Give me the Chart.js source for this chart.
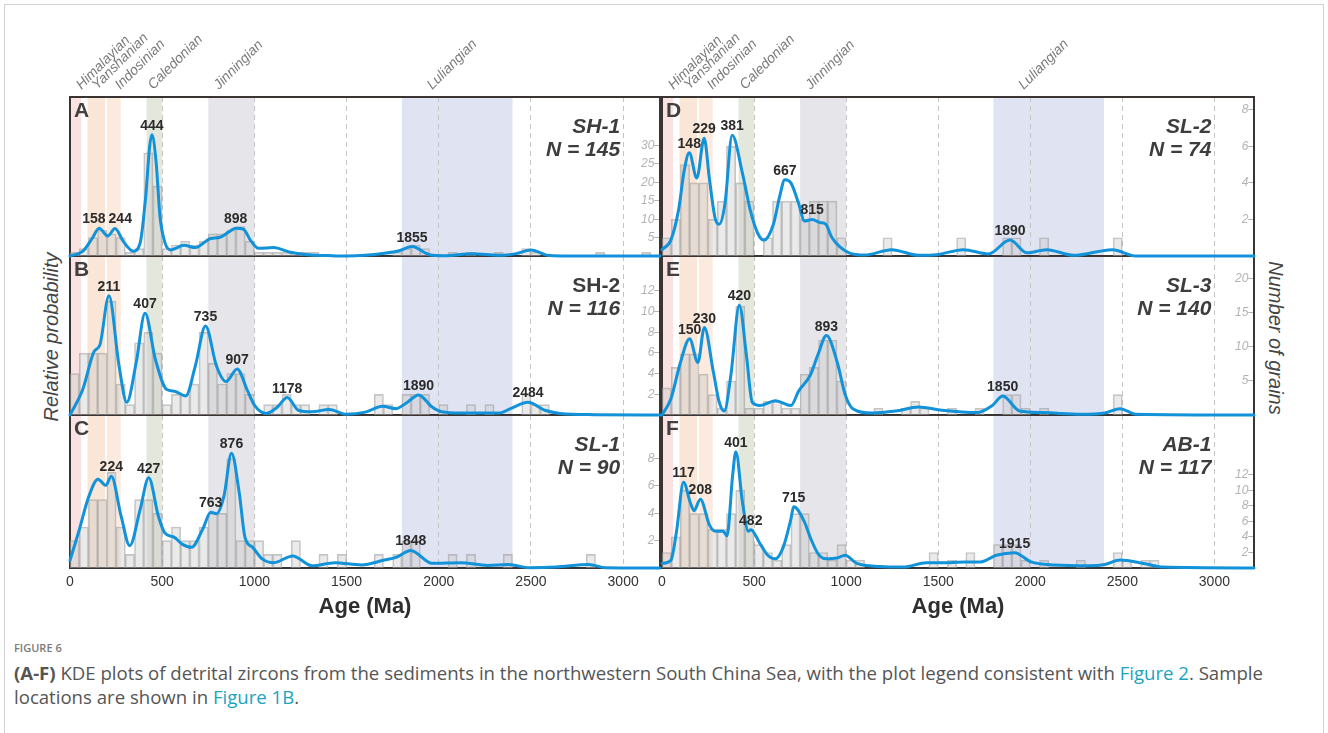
<!DOCTYPE html>
<html lang="en">
<head>
<meta charset="utf-8">
<title>KDE plots of detrital zircons</title>
<script src="https://cdn.jsdelivr.net/npm/chart.js@4.4.1/dist/chart.umd.min.js"></script>
<style>
  html, body { margin: 0; padding: 0; background: #fff; }
  body { position: relative; width: 1328px; height: 733px; overflow: hidden; }
  #sheet { position: absolute; left: 4px; top: 4px; width: 1320px; height: 800px; border: 1px solid #d2d2d2; box-sizing: border-box; }
  canvas { position: absolute; }
  .axis-title { position: absolute; font: italic 20px 'Liberation Sans', Arial, sans-serif; color: #454545; white-space: nowrap; }
  #ytl { left: 51px; top: 337px; transform: translate(-50%, -50%) rotate(-90deg); }
  #ytr { left: 1275px; top: 338px; transform: translate(-50%, -50%) rotate(90deg); }
  #caption { position: absolute; left: 14px; top: 640px; font-family: 'Open Sans', 'Noto Sans', sans-serif; color: #555; }
  #caption .fig { font-size: 11px; font-weight: 600; color: #7a7a7a; line-height: 16px; }
  #caption .text { margin-top: 5px; font-size: 18.6px; line-height: 24px; white-space: nowrap; }
  #caption b { font-weight: 700; }
  #caption .ref { color: #1ba3c1; }
</style>
</head>
<body>
<div id="sheet"></div>
<div class="axis-title" id="ytl">Relative probability</div>
<div class="axis-title" id="ytr">Number of grains</div>
<div id="caption">
  <div class="fig">FIGURE 6</div>
  <div class="text"><b>(A-F)</b> KDE plots of detrital zircons from the sediments in the northwestern South China Sea, with the plot legend consistent with <span class="ref">Figure 2</span>. Sample<br>locations are shown in <span class="ref">Figure 1B</span>.</div>
</div>
<script>
// ---------- tectonic periods (Ma) ----------
const periodNames    = ['Himalayian', 'Yanshanian', 'Indosinian', 'Caledonian', 'Jinningian', 'Luliangian'];
const periodStart    = [0, 95, 200, 415, 750, 1800];
const periodEnd      = [60, 190, 275, 500, 1000, 2400];
const periodLabelAge = [62, 148, 273, 451, 808, 1965];

// ---------- samples ----------
const panelLetters = ['A', 'B', 'C', 'D', 'E', 'F'];
const sampleNames  = ['SH-1', 'SH-2', 'SL-1', 'SL-2', 'SL-3', 'AB-1'];
const sampleN      = [145, 116, 90, 74, 140, 117];

// ---------- KDE curves: age (Ma) and relative probability ----------
const kdeAgeA  = [0, 70, 120, 158, 205, 244, 290, 343, 380, 411, 432, 444, 467, 488, 515, 546, 618, 680, 763, 810, 860, 898, 939, 981, 1022, 1105, 1188, 1290, 1400, 1500, 1600, 1705, 1790, 1855, 1950, 2030, 2180, 2330, 2420, 2500, 2600, 2700, 3200];
const kdeProbA = [0, 0.03, 0.11, 0.175, 0.126, 0.173, 0.09, 0.03, 0.08, 0.38, 0.69, 0.762, 0.59, 0.25, 0.084, 0.038, 0.067, 0.053, 0.11, 0.116, 0.15, 0.175, 0.17, 0.095, 0.048, 0.053, 0.025, 0.008, 0.003, 0, 0.004, 0.017, 0.035, 0.059, 0.008, 0.002, 0.014, 0.004, 0.015, 0.038, 0.003, 0, 0];

const kdeAgeB  = [0, 69, 131, 162, 211, 266, 308, 359, 407, 463, 525, 566, 628, 680, 735, 794, 846, 907, 960, 1001, 1063, 1125, 1178, 1239, 1312, 1405, 1499, 1602, 1695, 1768, 1830, 1890, 1964, 2016, 2120, 2250, 2327, 2389, 2484, 2575, 2658, 2844, 3200];
const kdeProbB = [0, 0.16, 0.40, 0.44, 0.75, 0.31, 0.08, 0.33, 0.64, 0.35, 0.16, 0.15, 0.12, 0.31, 0.56, 0.31, 0.21, 0.29, 0.16, 0.06, 0.01, 0.05, 0.11, 0.03, 0.02, 0.035, 0.005, 0.018, 0.055, 0.04, 0.08, 0.126, 0.05, 0.02, 0.012, 0.012, 0.012, 0.04, 0.08, 0.03, 0.01, 0.002, 0];

const kdeAgeC  = [0, 48, 100, 152, 194, 224, 277, 324, 380, 427, 479, 514, 566, 608, 659, 722, 763, 794, 835, 876, 918, 949, 991, 1042, 1105, 1208, 1312, 1436, 1581, 1705, 1768, 1848, 1964, 2120, 2265, 2379, 2492, 2637, 2813, 2906, 3200];
const kdeProbC = [0.05, 0.24, 0.46, 0.58, 0.54, 0.60, 0.34, 0.146, 0.38, 0.59, 0.34, 0.23, 0.20, 0.156, 0.135, 0.26, 0.365, 0.355, 0.47, 0.75, 0.49, 0.20, 0.135, 0.06, 0.035, 0.079, 0.015, 0.035, 0.02, 0.052, 0.069, 0.115, 0.031, 0.035, 0.017, 0.023, 0.002, 0.006, 0.023, 0.002, 0];

const kdeAgeD  = [0, 48, 90, 121, 148, 189, 229, 258, 290, 311, 342, 381, 437, 479, 521, 553, 605, 640, 667, 700, 742, 774, 815, 858, 889, 921, 963, 1016, 1100, 1247, 1394, 1500, 1636, 1773, 1890, 1982, 2089, 2236, 2446, 2573, 3215];
const kdeProbD = [0.04, 0.1, 0.29, 0.54, 0.65, 0.49, 0.74, 0.48, 0.23, 0.2, 0.33, 0.76, 0.52, 0.29, 0.14, 0.1, 0.2, 0.38, 0.48, 0.46, 0.33, 0.22, 0.23, 0.21, 0.2, 0.12, 0.06, 0.02, 0.006, 0.04, 0.004, 0.01, 0.04, 0.013, 0.1, 0.02, 0.04, 0.004, 0.04, 0, 0];

const kdeAgeE  = [0, 48, 100, 150, 195, 230, 279, 311, 338, 374, 420, 458, 490, 532, 616, 700, 742, 805, 847, 893, 952, 994, 1036, 1142, 1268, 1394, 1520, 1710, 1794, 1850, 1942, 2068, 2278, 2405, 2488, 2573, 3215];
const kdeProbE = [0, 0.1, 0.33, 0.48, 0.33, 0.55, 0.27, 0.08, 0.025, 0.25, 0.69, 0.38, 0.08, 0.06, 0.09, 0.06, 0.15, 0.25, 0.38, 0.50, 0.33, 0.13, 0.04, 0.013, 0.025, 0.05, 0.03, 0.015, 0.06, 0.12, 0.025, 0.015, 0.005, 0.013, 0.04, 0.005, 0];

const kdeAgeF  = [0, 48, 79, 117, 153, 174, 208, 258, 290, 332, 353, 384, 401, 437, 469, 482, 532, 574, 616, 658, 700, 715, 774, 805, 847, 889, 950, 994, 1058, 1184, 1310, 1436, 1562, 1647, 1731, 1815, 1915, 2004, 2131, 2320, 2405, 2488, 2615, 2720, 3215];
const kdeProbF = [0.03, 0.05, 0.24, 0.56, 0.43, 0.375, 0.45, 0.28, 0.24, 0.24, 0.21, 0.61, 0.76, 0.43, 0.24, 0.25, 0.16, 0.083, 0.06, 0.135, 0.32, 0.4, 0.3, 0.2, 0.094, 0.06, 0.065, 0.083, 0.03, 0.01, 0.006, 0.035, 0.035, 0.04, 0.04, 0.083, 0.1, 0.04, 0.02, 0.015, 0.023, 0.052, 0.03, 0.006, 0];

// ---------- histograms: grains per 50 Ma bin, starting at 0 Ma ----------
const binWidth = 50;
const histA = [1,2,5,7,6,5,1,2,28,19, 2,3,4,3,4,6,6,7,8,4, 1,1,1,1,1,1,1,0,0,0, 0,0,0,0,0,1,2,3,2,0, 0,1,0,1,0,0,1,0,0,2, 1,0,0,0,0,0,0,1,0,0, 0,0,1];
const histB = [4,6,6,6,11,3,1,7,8,6, 1,2,2,3,8,5,3,4,4,2, 0,1,1,2,1,1,0,1,1,0, 0,0,0,2,1,0,2,2,2,0, 1,0,0,1,0,1,0,0,0,2, 1,1];
const histC = [2,3,5,5,7,3,1,5,5,4, 2,3,2,2,3,4,4,8,2,2, 2,1,1,0,2,0,0,1,0,1, 0,0,0,1,0,1,2,2,0,0, 0,1,0,1,0,0,0,1,0,0, 0,0,0,0,0,0,1];
const histD = [1,2,5,4,4,2,3,6,4,3, 0,1,3,3,3,2,3,3,3,1, 0,0,0,0,1,0,0,0,0,0, 0,0,1,0,0,0,0,1,1,0, 0,1,0,0,0,0,0,0,0,1];
const histE = [4,7,9,9,6,3,1,5,16,1, 1,2,2,1,1,6,7,11,11,5, 0,0,0,1,0,0,1,2,1,0, 0,1,0,0,1,0,0,3,3,1, 0,1,0,0,0,0,0,0,0,3];
const histF = [2,4,10,7,7,5,5,7,10,5, 3,2,1,3,7,7,2,2,1,3, 1,1,0,0,0,0,0,0,0,2, 0,1,0,2,0,0,3,3,3,1, 0,1,0,0,0,1,0,0,0,2, 1,0,1,1];

// ---------- labelled peak ages (Ma) ----------
const peaksA = [158, 244, 444, 898, 1855];
const peaksB = [211, 407, 735, 907, 1178, 1890, 2484];
const peaksC = [224, 427, 763, 876, 1848];
const peaksD = [148, 229, 381, 667, 815, 1890];
const peaksE = [150, 230, 420, 893, 1850];
const peaksF = [117, 208, 401, 482, 715, 1915];

// ---------- axes ----------
const ageTicks      = [0, 500, 1000, 1500, 2000, 2500, 3000];
const ageMax        = [3200, 3215];          // per column
const grainMax      = [43.2, 15.4, 11.2, 8.7, 23.4, 19.7];
const grainStep     = [5, 2, 2, 2, 5, 2];
const grainLabelTop = [30, 12, 8, 8, 20, 12];

const kdeAges  = [kdeAgeA, kdeAgeB, kdeAgeC, kdeAgeD, kdeAgeE, kdeAgeF];
const kdeProbs = [kdeProbA, kdeProbB, kdeProbC, kdeProbD, kdeProbE, kdeProbF];
const hists    = [histA, histB, histC, histD, histE, histF];
const peaks    = [peaksA, peaksB, peaksC, peaksD, peaksE, peaksF];

// ---------- styling ----------
const FONT = "'Liberation Sans', Arial, Helvetica, sans-serif";
const bandFill   = ['#fbe2e2', '#fae6d6', '#fbeadd', '#e4e7dc', '#e6e6ea', '#e0e3f1'];
const nameItalic = [true, false, true, true, true, true];
const KDE_BLUE   = '#1192d9';
const FRAME      = '#3a3533';

// ---------- panel layout (chart area in page pixels) ----------
const colLeft = [70, 662], colWidth = [592, 594];
const rowTop = [97, 256, 415], rowHeight = [159, 159, 160];

const decorPlugin = {
  id: 'decor',
  beforeDraw(chart, args, o) {
    const { ctx, chartArea: a, scales: { x } } = chart;
    ctx.save();
    periodStart.forEach((s, i) => {
      const x0 = x.getPixelForValue(s), x1 = x.getPixelForValue(periodEnd[i]);
      ctx.fillStyle = bandFill[i];
      ctx.fillRect(x0, a.top, x1 - x0, a.bottom - a.top);
    });
    ctx.restore();
  },
  beforeDatasetsDraw(chart, args, o) {
    const { ctx, chartArea: a } = chart;
    ctx.save();
    ctx.strokeStyle = FRAME;
    ctx.lineWidth = 2;
    ctx.beginPath();
    if (o.isTop) { ctx.moveTo(a.left - 1, a.top); ctx.lineTo(a.right + 1, a.top); }
    ctx.moveTo(a.left, a.top); ctx.lineTo(a.left, a.bottom);
    ctx.moveTo(a.right, a.top); ctx.lineTo(a.right, a.bottom);
    ctx.moveTo(a.left - 1, a.bottom); ctx.lineTo(a.right + 1, a.bottom);
    ctx.stroke();
    ctx.restore();
  },
  afterDatasetsDraw(chart, args, o) {
    const { ctx, chartArea: a, scales: { x } } = chart;
    const i = o.index;
    ctx.save();
    // panel letter
    ctx.fillStyle = '#404040';
    ctx.font = 'bold 21px ' + FONT;
    ctx.textAlign = 'left';
    ctx.textBaseline = 'alphabetic';
    ctx.fillText(panelLetters[i], a.left + 4, a.top + 20);
    // sample name and grain count
    const xr = x.getPixelForValue(3000) - 3;
    ctx.textAlign = 'right';
    ctx.fillStyle = '#3d3d3d';
    ctx.font = (nameItalic[i] ? 'italic ' : '') + 'bold 21px ' + FONT;
    ctx.fillText(sampleNames[i], xr, a.top + 36);
    ctx.font = 'italic bold 21px ' + FONT;
    ctx.fillText('N = ' + sampleN[i], xr, a.top + 59);

    // peak labels placed on the KDE points
    const meta = chart.getDatasetMeta(1);
    ctx.font = 'bold 14px ' + FONT;
    const labels = peaks[i].map(age => {
      const k = kdeAges[i].indexOf(age);
      const el = meta.data[k];
      const txt = String(age);
      return { txt, x: el.x, y: el.y - 5, w: ctx.measureText(txt).width };
    }).sort((p, q) => p.x - q.x);
    for (let m = 1; m < labels.length; m++) {
      const p = labels[m - 1], q = labels[m];
      const need = (p.w + q.w) / 2 + 3;
      if (q.x - p.x < need && Math.abs(q.y - p.y) < 11) {
        const d = (need - (q.x - p.x)) / 2;
        p.x -= d; q.x += d;
      }
    }
    ctx.fillStyle = '#2b2b2b';
    ctx.textAlign = 'center';
    labels.forEach(l => ctx.fillText(l.txt, l.x, l.y));
    ctx.restore();
  },
  afterDraw(chart, args, o) {
    if (!o.isTop) return;
    const { ctx, chartArea: a, scales: { x } } = chart;
    ctx.save();
    ctx.fillStyle = '#7a7a7a';
    ctx.font = 'italic 14px ' + FONT;
    ctx.textAlign = 'left';
    ctx.textBaseline = 'alphabetic';
    periodNames.forEach((name, k) => {
      ctx.save();
      ctx.translate(x.getPixelForValue(periodLabelAge[k]), a.top - 7);
      ctx.rotate(-Math.PI / 4);
      ctx.fillText(name, 0, 0);
      ctx.restore();
    });
    ctx.restore();
  }
};

function makePanel(i) {
  const col = Math.floor(i / 3), row = i % 3;
  const isTop = row === 0, isBottom = row === 2;
  const L = colLeft[col], T = rowTop[row], W = colWidth[col], H = rowHeight[row];
  const pad = { left: 12, right: 12, top: isTop ? 75 : 12, bottom: isBottom ? 4 : 12 };
  const axisH = isBottom ? 7 + 14 + 22 : 0;
  const cw = W + pad.left + pad.right;
  const ch = H + pad.top + pad.bottom + axisH;

  const cv = document.createElement('canvas');
  cv.width = cw; cv.height = ch;
  cv.style.left = (L - pad.left) + 'px';
  cv.style.top = (T - pad.top) + 'px';
  cv.style.width = cw + 'px';
  cv.style.height = ch + 'px';
  cv.style.zIndex = String(10 + col * 10 + (3 - row));
  document.body.appendChild(cv);

  const barData = hists[i]
    .map((n, b) => ({ x: b * binWidth + binWidth / 2, y: n }))
    .filter(p => p.y > 0);
  const kdeData = kdeAges[i].map((age, k) => ({ x: age, y: kdeProbs[i][k] }));

  new Chart(cv, {
    type: 'line',
    data: {
      datasets: [
        {
          type: 'bar', label: 'grains', data: barData, yAxisID: 'yh', order: 2,
          backgroundColor: 'rgba(200,200,200,0.38)', borderColor: 'rgba(150,150,150,0.55)',
          borderWidth: 1, barPercentage: 1, categoryPercentage: 1
        },
        {
          type: 'line', label: 'KDE', data: kdeData, yAxisID: 'yk', order: 1,
          borderColor: KDE_BLUE, borderWidth: 3, pointRadius: 0, fill: false,
          cubicInterpolationMode: 'monotone', borderJoinStyle: 'round', borderCapStyle: 'round', clip: false
        }
      ]
    },
    options: {
      responsive: false, animation: false, devicePixelRatio: 1,
      layout: { padding: pad },
      events: [],
      plugins: { legend: { display: false }, tooltip: { enabled: false }, decor: { index: i, isTop } },
      scales: {
        x: {
          type: 'linear', min: 0, max: ageMax[col], offset: false,
          afterBuildTicks: s => { s.ticks = ageTicks.map(v => ({ value: v })); },
          ticks: {
            display: isBottom, autoSkip: false, maxRotation: 0,
            padding: 7, color: '#333', font: { family: FONT, size: 14, lineHeight: 1 },
            callback: v => String(v)
          },
          grid: {
            offset: false, drawTicks: false, lineWidth: 1,
            color: c => (c.tick && c.tick.value > 0) ? '#c4c4c4' : 'rgba(0,0,0,0)'
          },
          border: { display: false, dash: [5, 4] },
          title: {
            display: isBottom, text: 'Age (Ma)', padding: 0, color: '#2e2e2e',
            font: { family: FONT, size: 22, weight: 'bold', lineHeight: 1 }
          }
        },
        yk: { type: 'linear', position: 'left', display: false, min: 0, max: 1 },
        yh: {
          type: 'linear', position: 'right', min: 0, max: grainMax[i],
          grid: { display: false, drawTicks: false },
          border: { display: false },
          afterBuildTicks: s => {
            const t = [];
            for (let v = grainStep[i]; v <= grainLabelTop[i]; v += grainStep[i]) t.push({ value: v });
            s.ticks = t;
          },
          ticks: {
            mirror: true, padding: 1, color: '#b3b3b3',
            font: { family: FONT, size: 12, style: 'italic' },
            callback: v => v + '\u2013'
          }
        }
      }
    },
    plugins: [decorPlugin]
  });
}

for (let i = 0; i < 6; i++) makePanel(i);
</script>
</body>
</html>
